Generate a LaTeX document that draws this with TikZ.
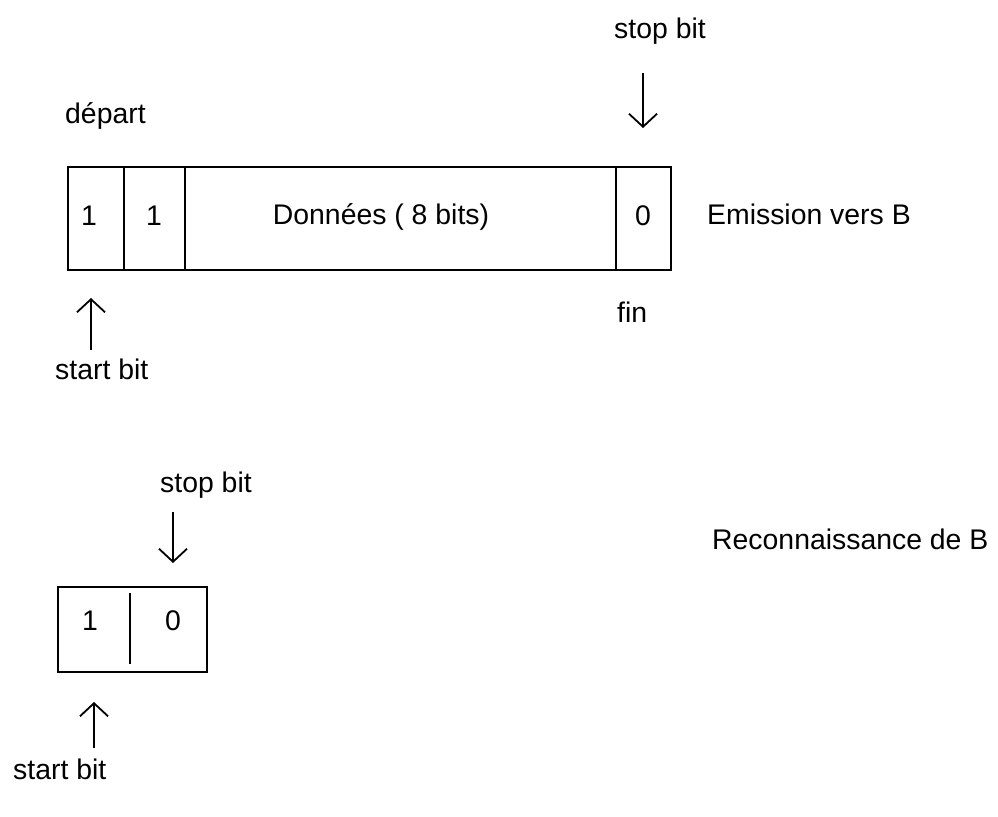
\documentclass[tikz,border=0pt]{standalone}
\usepackage{fontspec}
\setmainfont{Liberation Sans}
\usetikzlibrary{arrows.meta}
\begin{document}
\begin{tikzpicture}[x=1bp,y=-1bp,
  lbl/.style={inner sep=0pt,font=\fontsize{28.5}{30}\selectfont},
  frame/.style={line width=2bp},
  sepline/.style={line width=1.6bp},
  pointer/.style={line width=1.8bp,-{Straight Barb[length=13bp,width=28bp]}}]
\useasboundingbox (0,0) rectangle (998,817);
% ---- top frame: Emission vers B
\node[lbl,anchor=base] (stopA) at (660,39) {stop bit};
\coordinate (stopAs) at (643,73);
\coordinate (stopAe) at (643,128);
\draw[pointer] (stopAs) -- (stopAe);
\node[lbl,anchor=base west] (depart) at (65,123) {départ};
\draw[frame] (68,167) rectangle (671,270);
\draw[sepline] (124,167) -- (124,270);
\draw[sepline] (185,167) -- (185,270);
\draw[sepline] (616,167) -- (616,270);
\node[lbl,anchor=base] (b1) at (89,225) {1};
\node[lbl,anchor=base] (b2) at (154,225) {1};
\node[lbl,anchor=base] (data) at (381,224) {Données ( 8 bits)};
\node[lbl,anchor=base] (b0) at (643,225) {0};
\node[lbl,anchor=base west] (emis) at (707,224) {Emission vers B};
\node[lbl,anchor=base west] (fin) at (617,322) {fin};
\coordinate (startAs) at (91,350);
\coordinate (startAe) at (91,298);
\draw[pointer] (startAs) -- (startAe);
\node[lbl,anchor=base west] (startA) at (55,379) {start bit};
% ---- bottom frame: Reconnaissance de B
\node[lbl,anchor=base west] (stopB) at (160,492) {stop bit};
\coordinate (stopBs) at (173,512);
\coordinate (stopBe) at (173,563);
\draw[pointer] (stopBs) -- (stopBe);
\node[lbl,anchor=base west] (recon) at (712,549) {Reconnaissance de B};
\draw[frame] (58,587) rectangle (207,672);
\draw[line width=2.6bp] (130,593) -- (130,664);
\node[lbl,anchor=base] (c1) at (90,630) {1};
\node[lbl,anchor=base] (c0) at (173,630) {0};
\coordinate (startBs) at (94,748);
\coordinate (startBe) at (94,702);
\draw[pointer] (startBs) -- (startBe);
\node[lbl,anchor=base west] (startB) at (13,779) {start bit};
\end{tikzpicture}
\end{document}
